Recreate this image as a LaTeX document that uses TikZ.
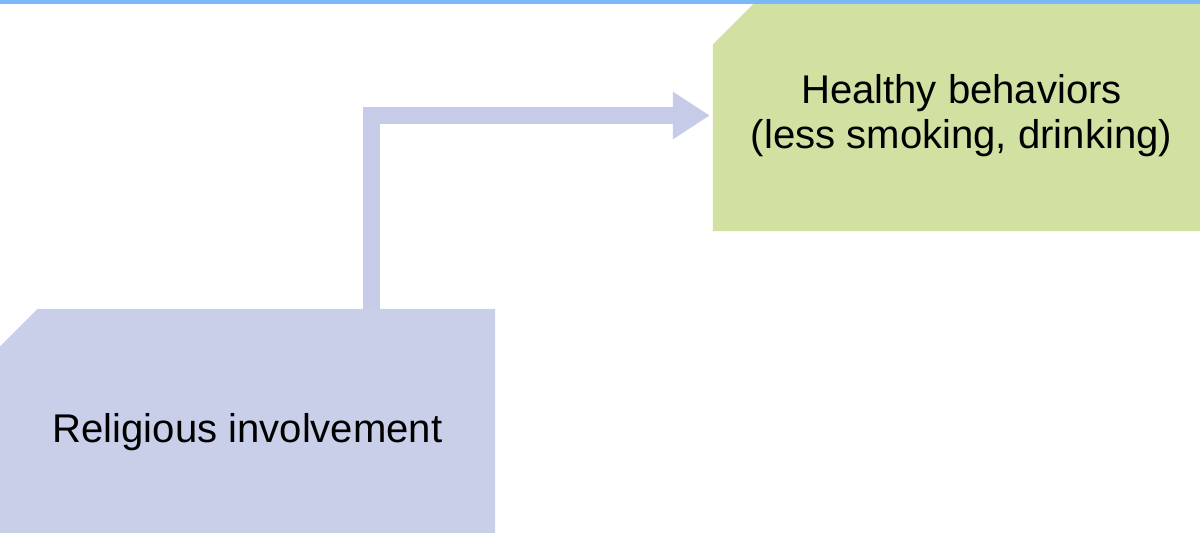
\documentclass[tikz,border=0pt]{standalone}
\usepackage{fontspec}
\setmainfont{Liberation Sans}
\usetikzlibrary{shapes.misc,arrows.meta,positioning,calc}
\definecolor{topbar}{HTML}{7AB8F8}
\definecolor{relblue}{HTML}{C9CFE9}
\definecolor{arrowblue}{HTML}{C6CCE8}
\definecolor{healthgreen}{HTML}{D0E1A1}
\tikzstyle{box} = [chamfered rectangle, chamfered rectangle corners=north west, inner sep=0pt, outer sep=0pt, text centered, align=center, font=\fontsize{11.4}{13.0}\selectfont]
\tikzstyle{cause} = [box, minimum width=4.95cm, minimum height=2.47cm, chamfered rectangle xsep=0.155cm, chamfered rectangle ysep=0.22cm, fill=relblue]
\tikzstyle{effect} = [box, minimum width=4.97cm, minimum height=2.31cm, chamfered rectangle xsep=0.205cm, chamfered rectangle ysep=0.24cm, fill=healthgreen]
\tikzstyle{flow} = [line width=0.17cm, draw=arrowblue, -{Triangle[length=0.37cm,width=0.45cm]}, shorten >=0.03cm]

\begin{document}
\begin{tikzpicture}[x=0.01cm, y=-0.01cm]
\useasboundingbox (0,0) rectangle (1200,532);
\clip (0,0) rectangle (1200,532);

% Boxes
\node (relig) [cause] at (247.5,432.5) {Religious involvement};
\node (healthy) [effect] at (961.5,115.5) {Healthy behaviors\\(less smoking, drinking)};

% Connection
\draw [flow] ([xshift=1.235cm]relig.north) |- (healthy.west);

% Top bar
\fill [topbar] (0,0) rectangle (1200,4);

\end{tikzpicture}
\end{document}
